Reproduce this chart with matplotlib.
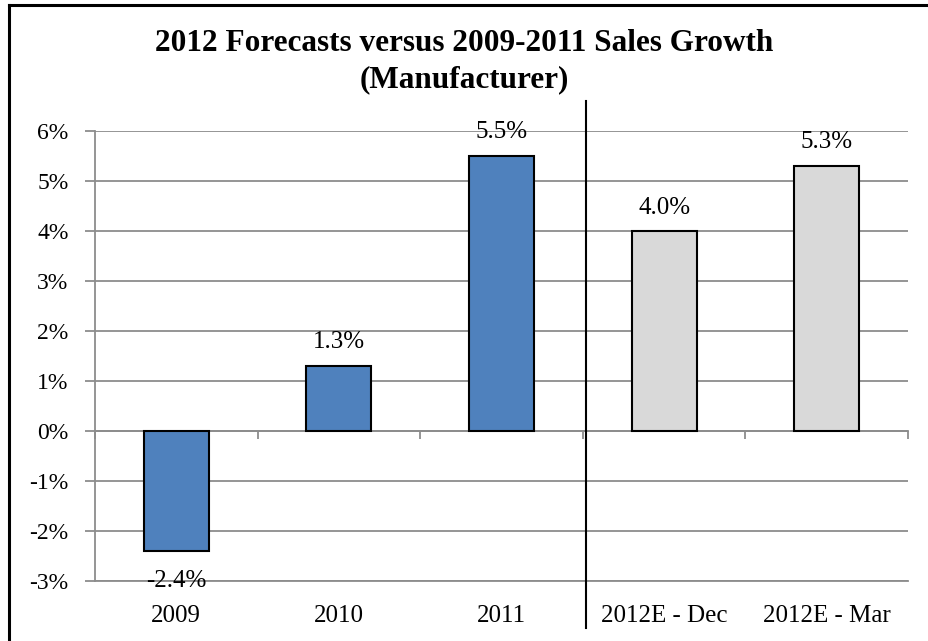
import matplotlib.pyplot as plt
from matplotlib.lines import Line2D

categories = ['2009', '2010', '2011', '2012E - Dec', '2012E - Mar']
growth = [-2.4, 1.3, 5.5, 4.0, 5.3]
bar_colors = ['#4F81BD', '#4F81BD', '#4F81BD', '#D9D9D9', '#D9D9D9']
yticks = [-3, -2, -1, 0, 1, 2, 3, 4, 5, 6]

plt.rcParams['font.family'] = 'Liberation Serif'
grid_gray = '#8c8c8c'

fig = plt.figure(figsize=(9.29, 6.41), dpi=100)
ax = fig.add_axes([95 / 929, 1 - 581 / 641, (908 - 95) / 929, 450 / 641])

x = list(range(len(categories)))
bars = ax.bar(x, growth, width=0.4, color=bar_colors, edgecolor='black',
              linewidth=1.5, zorder=3)

# value labels: above positive bars, below negative ones
for xi, v in zip(x, growth):
    if v >= 0:
        ax.annotate('%.1f%%' % v, (xi, v), xytext=(0, 9),
                    textcoords='offset points', ha='center', va='bottom',
                    fontsize=18, zorder=5)
    else:
        ax.annotate('%.1f%%' % v, (xi, v), xytext=(0, -14),
                    textcoords='offset points', ha='center', va='top',
                    fontsize=18, zorder=5)

ax.set_xlim(-0.5, len(categories) - 0.5)
ax.set_ylim(-3, 6)
ax.set_yticks(yticks)
ax.set_yticklabels(['%d%%' % t for t in yticks], fontsize=17)
ax.set_xticks(x)
ax.set_xticklabels(categories, fontsize=18)
ax.tick_params(axis='x', length=0, pad=17.5)
ax.tick_params(axis='y', length=7, width=1.3, color=grid_gray, pad=12)
ax.grid(axis='y', color=grid_gray, linewidth=1.3, zorder=0)
ax.set_axisbelow(True)
for side in ['top', 'right']:
    ax.spines[side].set_visible(False)
for side in ['left', 'bottom']:
    ax.spines[side].set_color(grid_gray)
    ax.spines[side].set_linewidth(1.3)

# category axis drawn through zero, ticks between categories
zero_axis = ax.secondary_xaxis(3 / 9)
zero_axis.set_xticks([i - 0.5 for i in range(len(categories) + 1)])
zero_axis.set_xticklabels([])
zero_axis.tick_params(length=6, width=1.3, color=grid_gray)
zero_axis.spines['bottom'].set_color(grid_gray)
zero_axis.spines['bottom'].set_linewidth(1.3)

# divider between actuals and forecasts
ax.axvline(2.52, ymin=-0.104, ymax=1.067, color='black', linewidth=1.5,
           clip_on=False, zorder=4)

fig.text(0.5, 1 - 61.5 / 641,
         '2012 Forecasts versus 2009-2011 Sales Growth\n(Manufacturer)',
         ha='center', va='center', fontsize=22.5, fontweight='bold',
         linespacing=1.32)

# chart frame
fig.add_artist(Line2D([9 / 929, 1], [1 - 5 / 641, 1 - 5 / 641],
                      color='black', linewidth=2.2))
fig.add_artist(Line2D([9 / 929, 9 / 929], [0, 1 - 5 / 641],
                      color='black', linewidth=2.2))

fig.savefig('out.png', dpi=100)
